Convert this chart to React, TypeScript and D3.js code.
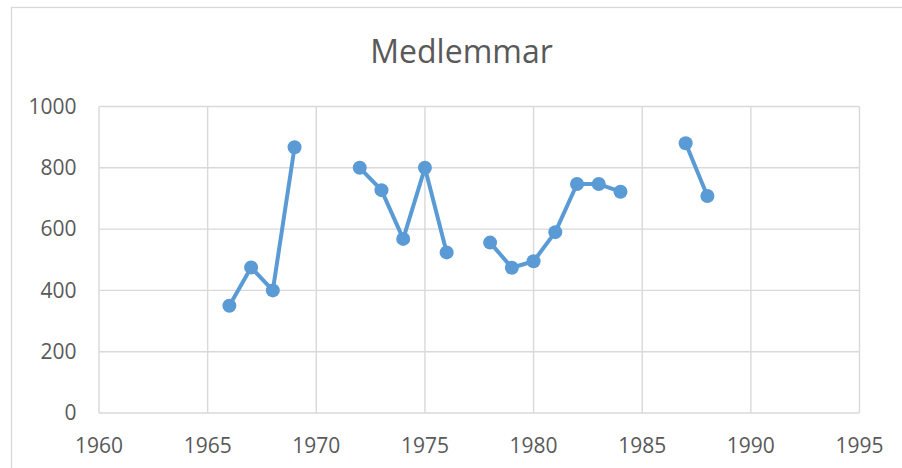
import React, { useEffect, useRef } from "react";
import * as d3 from "d3";

// member counts per year, null = no data (gap in the line)
const years = [
  1966, 1967, 1968, 1969, 1970, 1971, 1972, 1973, 1974, 1975, 1976, 1977,
  1978, 1979, 1980, 1981, 1982, 1983, 1984, 1985, 1986, 1987, 1988
];
const members: (number | null)[] = [
  350, 475, 400, 867, null, null, 800, 727, 568, 800, 524, null,
  556, 474, 495, 590, 747, 747, 722, null, null, 880, 708
];
const xTicks = [1960, 1965, 1970, 1975, 1980, 1985, 1990, 1995];
const yTicks = [0, 200, 400, 600, 800, 1000];
const title = "Medlemmar";

const W = 902;
const H = 468;
const plot = { left: 99, right: 859.5, top: 106.5, bottom: 413 };
const font = "'Open Sans', sans-serif";
const textColor = "#595959";
const gridColor = "#d9d9d9";
const lineColor = "#5b9bd5";

export default function App() {
  const ref = useRef<SVGSVGElement>(null);

  useEffect(() => {
    const svg = d3.select(ref.current);
    svg.selectAll("*").remove();

    const data = years.map((y, i) => ({ year: y, value: members[i] }));

    const x = d3.scaleLinear().domain([1960, 1995]).range([plot.left, plot.right]);
    const y = d3.scaleLinear().domain([0, 1000]).range([plot.bottom, plot.top]);

    svg.append("rect")
      .attr("width", W)
      .attr("height", H)
      .attr("fill", "#ffffff");

    // outer chart frame (runs off the right and bottom)
    svg.append("rect")
      .attr("x", 11.5)
      .attr("y", 7.5)
      .attr("width", 1000)
      .attr("height", 1000)
      .attr("fill", "none")
      .attr("stroke", gridColor)
      .attr("stroke-width", 1.3);

    svg.append("text")
      .attr("x", 461.5)
      .attr("y", 62.5)
      .attr("text-anchor", "middle")
      .attr("font-family", font)
      .attr("font-size", 32)
      .attr("fill", textColor)
      .text(title);

    // grid
    svg.append("g")
      .selectAll("line.h")
      .data(yTicks)
      .enter()
      .append("line")
      .attr("x1", plot.left)
      .attr("x2", plot.right)
      .attr("y1", d => y(d))
      .attr("y2", d => y(d))
      .attr("stroke", gridColor)
      .attr("stroke-width", 1.4);

    svg.append("g")
      .selectAll("line.v")
      .data(xTicks)
      .enter()
      .append("line")
      .attr("x1", d => x(d))
      .attr("x2", d => x(d))
      .attr("y1", plot.top)
      .attr("y2", plot.bottom)
      .attr("stroke", gridColor)
      .attr("stroke-width", 1.4);

    // tick labels
    svg.append("g")
      .selectAll("text")
      .data(yTicks)
      .enter()
      .append("text")
      .attr("x", 76.5)
      .attr("y", d => y(d))
      .attr("dy", "0.35em")
      .attr("text-anchor", "end")
      .attr("font-family", font)
      .attr("font-size", 21)
      .attr("fill", textColor)
      .text(d => d);

    svg.append("g")
      .selectAll("text")
      .data(xTicks)
      .enter()
      .append("text")
      .attr("x", d => x(d))
      .attr("y", 452.5)
      .attr("text-anchor", "middle")
      .attr("font-family", font)
      .attr("font-size", 21)
      .attr("fill", textColor)
      .text(d => d);

    const line = d3.line<{ year: number; value: number | null }>()
      .defined(d => d.value !== null)
      .x(d => x(d.year))
      .y(d => y(d.value as number));

    svg.append("path")
      .attr("d", line(data))
      .attr("fill", "none")
      .attr("stroke", lineColor)
      .attr("stroke-width", 4)
      .attr("stroke-linejoin", "round");

    svg.append("g")
      .selectAll("circle")
      .data(data.filter(d => d.value !== null))
      .enter()
      .append("circle")
      .attr("cx", d => x(d.year))
      .attr("cy", d => y(d.value as number))
      .attr("r", 7)
      .attr("fill", lineColor);
  }, []);

  return (
    <div style={{ position: "absolute", left: 0, top: 0 }}>
      <svg ref={ref} width={W} height={H} style={{ display: "block" }} />
    </div>
  );
}
